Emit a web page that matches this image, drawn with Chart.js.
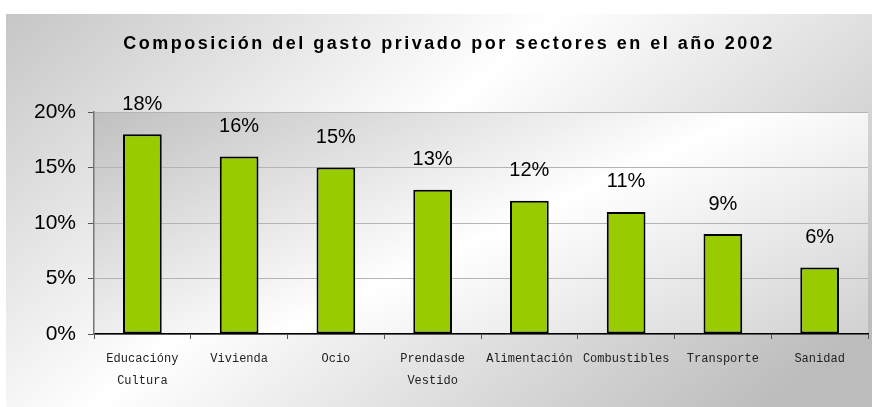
<!DOCTYPE html>
<html>
<head>
<meta charset="utf-8">
<script src="https://cdn.jsdelivr.net/npm/chart.js@4"></script>
<style>
  html, body { margin: 0; padding: 0; background: #fff; }
  #wrap { width: 872px; height: 407px; }
</style>
</head>
<body>
<div id="wrap"><canvas id="myBarChart" width="872" height="407"></canvas></div>
<script>
var sectores = [['Educacióny', 'Cultura'], 'Vivienda', 'Ocio', ['Prendasde', 'Vestido'], 'Alimentación', 'Combustibles', 'Transporte', 'Sanidad'];
var gasto = [18, 16, 15, 13, 12, 11, 9, 6];
var yTicks = [0, 5, 10, 15, 20];
var titulo = 'Composición del gasto privado por sectores en el año 2002';

// gradient backgrounds + title
var fondo = {
  id: 'fondo',
  beforeDraw: function(chart) {
    var ctx = chart.ctx;
    var a = chart.chartArea;
    ctx.save();
    var g = ctx.createLinearGradient(6, 14, 520, 620);
    g.addColorStop(0, '#c6c6c6');
    g.addColorStop(0.45, '#ffffff');
    g.addColorStop(1, '#bcbcbc');
    ctx.fillStyle = g;
    ctx.fillRect(6, 14, chart.width - 6, chart.height - 14);

    var g2 = ctx.createLinearGradient(a.left, a.top, a.left + 260, a.top + 560);
    g2.addColorStop(0, '#c0c0c0');
    g2.addColorStop(0.45, '#ffffff');
    g2.addColorStop(1, '#c0c0c0');
    ctx.fillStyle = g2;
    ctx.fillRect(a.left, a.top, a.right - a.left, a.bottom - a.top);

    ctx.fillStyle = '#000';
    ctx.font = 'bold 18px "Liberation Sans", Arial, sans-serif';
    ctx.letterSpacing = '2.5px';
    ctx.textAlign = 'center';
    ctx.textBaseline = 'middle';
    ctx.fillText(titulo, 449, 44);
    ctx.restore();
  },
  afterDatasetsDraw: function(chart) {
    var ctx = chart.ctx;
    var meta = chart.getDatasetMeta(0);
    ctx.save();
    ctx.fillStyle = '#000';
    ctx.font = '20px "Liberation Sans", Arial, sans-serif';
    ctx.textAlign = 'center';
    ctx.textBaseline = 'bottom';
    meta.data.forEach(function(bar, i) {
      ctx.fillText(gasto[i] + '%', bar.x, bar.y - 20);
    });
    ctx.restore();
  }
};

var data = {
  labels: sectores,
  datasets: [{
    data: gasto,
    backgroundColor: '#99cc00',
    borderColor: '#000',
    borderWidth: 2,
    borderSkipped: false,
    barPercentage: 0.4,
    categoryPercentage: 1
  }]
};

var options = {
  responsive: false,
  animation: false,
  layout: { padding: { left: 6, top: 112, right: 4, bottom: 0 } },
  scales: {
    x: {
      offset: true,
      grid: { offset: true, drawOnChartArea: false, drawTicks: true, tickLength: 5, color: '#555', tickWidth: 1 },
      border: { color: '#000', width: 1.5 },
      ticks: {
        color: '#222',
        font: { family: '"Liberation Mono", "Courier New", monospace', size: 12, lineHeight: 1.9 },
        maxRotation: 0,
        autoSkip: false,
        padding: 8
      },
      afterFit: function(scale) { scale.height = 73; }
    },
    y: {
      min: 0,
      max: 20,
      afterBuildTicks: function(scale) {
        scale.ticks = yTicks.map(function(v) { return { value: v }; });
      },
      grid: { color: '#b4b4b4', tickLength: 6, tickColor: '#555' },
      border: { color: '#777', width: 1.5 },
      ticks: {
        color: '#000',
        font: { family: '"Liberation Sans", Arial, sans-serif', size: 21 },
        padding: 12,
        callback: function(v) { return v + '%'; }
      },
      afterFit: function(scale) { scale.width = 88; }
    }
  },
  plugins: {
    legend: { display: false },
    title: { display: false },
    tooltip: { enabled: false }
  }
};

var ctx = document.getElementById('myBarChart').getContext('2d');
var myBarChart = new Chart(ctx, {
  type: 'bar',
  data: data,
  options: options,
  plugins: [fondo]
});
</script>
</body>
</html>
